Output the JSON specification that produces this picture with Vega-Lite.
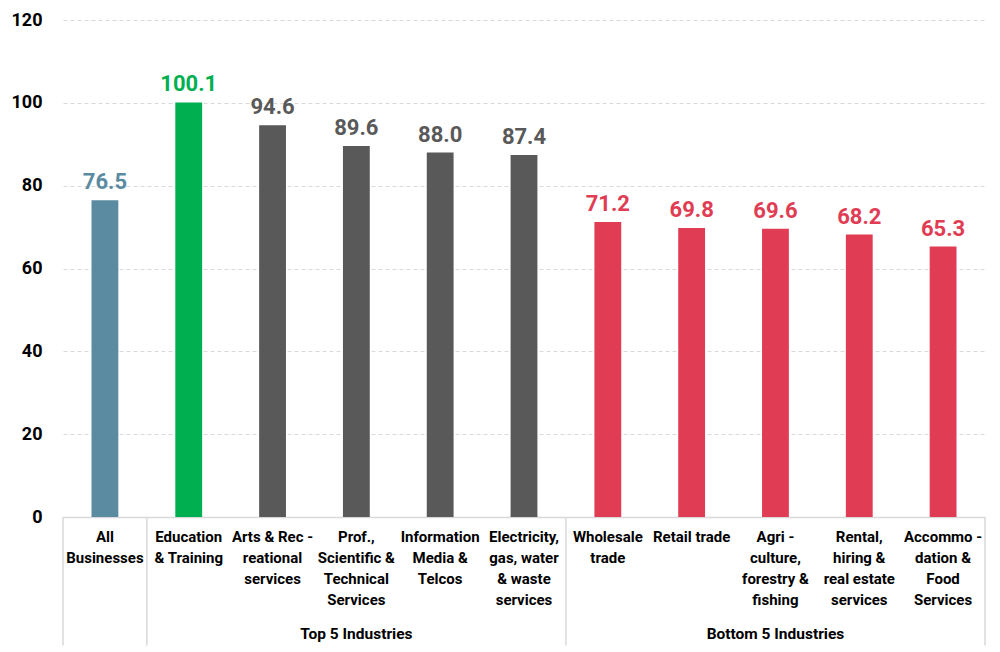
{
  "$schema": "https://vega.github.io/schema/vega-lite/v6.json",
  "width": 922,
  "height": 497,
  "autosize": {"type": "none"},
  "padding": {"left": 63, "top": 20, "right": 15, "bottom": 135},
  "background": "white",
  "config": {
    "view": {"stroke": null},
    "font": "Roboto",
    "text": {"font": "Roboto"}
  },
  "data": {
    "values": [
      {"label": "All|Businesses", "value": 76.5, "kind": "All", "group": ""},
      {"label": "Education|& Training", "value": 100.1, "kind": "Best", "group": "Top 5 Industries"},
      {"label": "Arts & Rec -|reational|services", "value": 94.6, "kind": "Top", "group": "Top 5 Industries"},
      {"label": "Prof.,|Scientific &|Technical|Services", "value": 89.6, "kind": "Top", "group": "Top 5 Industries"},
      {"label": "Information|Media &|Telcos", "value": 88.0, "kind": "Top", "group": "Top 5 Industries"},
      {"label": "Electricity,|gas, water|& waste|services", "value": 87.4, "kind": "Top", "group": "Top 5 Industries"},
      {"label": "Wholesale|trade", "value": 71.2, "kind": "Bottom", "group": "Bottom 5 Industries"},
      {"label": "Retail trade", "value": 69.8, "kind": "Bottom", "group": "Bottom 5 Industries"},
      {"label": "Agri -|culture,|forestry &|fishing", "value": 69.6, "kind": "Bottom", "group": "Bottom 5 Industries"},
      {"label": "Rental,|hiring &|real estate|services", "value": 68.2, "kind": "Bottom", "group": "Bottom 5 Industries"},
      {"label": "Accommo -|dation &|Food|Services", "value": 65.3, "kind": "Bottom", "group": "Bottom 5 Industries"}
    ]
  },
  "encoding": {
    "x": {
      "field": "label",
      "type": "nominal",
      "sort": null,
      "title": null,
      "scale": {"paddingInner": 0, "paddingOuter": 0},
      "axis": {
        "labelExpr": "split(datum.label, '|')",
        "labelAngle": 0,
        "labelFontSize": 15,
        "labelFontWeight": "bold",
        "labelColor": "#000000",
        "labelLineHeight": 21,
        "labelBaseline": "top",
        "labelPadding": 12,
        "labelLimit": 0,
        "ticks": false,
        "domainColor": "#d9d9d9",
        "domainWidth": 1.5
      }
    }
  },
  "layer": [
    {
      "mark": {"type": "bar", "width": {"band": 0.32}},
      "encoding": {
        "y": {
          "field": "value",
          "type": "quantitative",
          "title": null,
          "scale": {"domain": [0, 120], "nice": false},
          "axis": {
            "values": [0, 20, 40, 60, 80, 100, 120],
            "labelFontSize": 18,
            "labelFontWeight": "bold",
            "labelColor": "#000000",
            "labelPadding": 21,
            "domain": false,
            "ticks": false,
            "gridColor": "#d9d9d9",
            "gridDash": [4, 3],
            "gridWidth": 1
          }
        },
        "color": {
          "field": "kind",
          "type": "nominal",
          "legend": null,
          "scale": {
            "domain": ["All", "Best", "Top", "Bottom"],
            "range": ["#5b8ba0", "#00b050", "#595959", "#e03c53"]
          }
        }
      }
    },
    {
      "mark": {"type": "text", "baseline": "bottom", "dy": -6, "fontSize": 22, "fontWeight": "bold"},
      "encoding": {
        "y": {"field": "value", "type": "quantitative"},
        "text": {"field": "value", "type": "quantitative", "format": ".1f"},
        "color": {"field": "kind", "type": "nominal", "legend": null}
      }
    },
    {
      "transform": [
        {"filter": {"field": "label", "oneOf": ["All|Businesses", "Education|& Training", "Wholesale|trade"]}}
      ],
      "mark": {"type": "rule", "color": "#d9d9d9", "strokeWidth": 1.5},
      "encoding": {
        "x": {"field": "label", "type": "nominal", "sort": null, "bandPosition": 0},
        "y": {"datum": 0},
        "y2": {"datum": -31}
      }
    },
    {
      "transform": [
        {"filter": {"field": "label", "equal": "Accommo -|dation &|Food|Services"}}
      ],
      "mark": {"type": "rule", "color": "#d9d9d9", "strokeWidth": 1.5},
      "encoding": {
        "x": {"field": "label", "type": "nominal", "sort": null, "bandPosition": 1},
        "y": {"datum": 0},
        "y2": {"datum": -31}
      }
    },
    {
      "transform": [
        {"filter": {"field": "label", "oneOf": ["Prof.,|Scientific &|Technical|Services", "Agri -|culture,|forestry &|fishing"]}}
      ],
      "mark": {"type": "text", "baseline": "middle", "fontSize": 15.5, "fontWeight": "bold", "color": "#000000"},
      "encoding": {
        "y": {"datum": -28.3},
        "text": {"field": "group"}
      }
    }
  ]
}
